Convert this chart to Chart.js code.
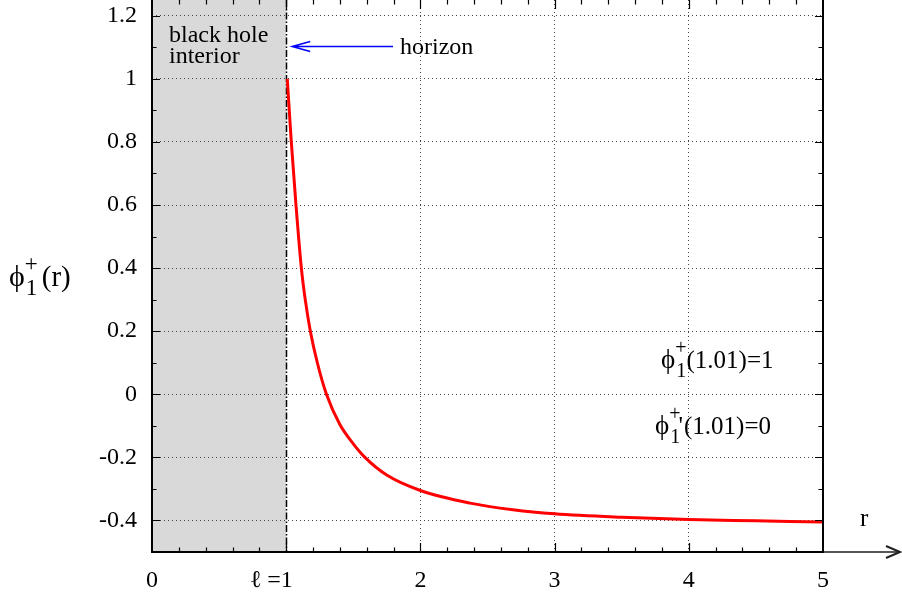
<!DOCTYPE html>
<html>
<head>
<meta charset="utf-8">
<script src="https://cdn.jsdelivr.net/npm/chart.js@4/dist/chart.umd.min.js"></script>
<style>
html,body{margin:0;padding:0;background:#fff;overflow:hidden}
canvas{display:block}
</style>
</head>
<body>
<canvas id="c" width="902" height="596"></canvas>
<script>
// ---- data ----
const rValues   = [1.008, 1.038, 1.073, 1.113, 1.142, 1.180, 1.232, 1.30, 1.40, 1.50, 1.587, 1.749, 2.0, 2.37, 2.69, 3.0, 3.5, 4.0, 4.5, 5.0];
const phiValues = [1.0, 0.8, 0.6, 0.4, 0.3, 0.2, 0.1, 0.0, -0.096, -0.157, -0.2, -0.256, -0.305, -0.345, -0.366, -0.379, -0.390, -0.397, -0.401, -0.405];
const xTickValues = [0, 1, 2, 3, 4, 5];
const xTickLabels = ['0', '\u2113 =1\u00a0\u00a0\u00a0\u00a0\u00a0', '2', '3', '4', '5'];
const yTickValues = [-0.4, -0.2, 0, 0.2, 0.4, 0.6, 0.8, 1, 1.2];
const yTickLabels = ['-0.4', '-0.2', '0', '0.2', '0.4', '0.6', '0.8', '1', '1.2'];
const interiorRange = [0, 1];   // black hole interior
const horizonR = 1;

const FONT = '"Liberation Serif", "Times New Roman", serif';
const PHI = '\u03D5';

function drawPhi(ctx, x, y, phiSize, mainSize, subSize, supUp, subDown, gap, prime, rest) {
  ctx.textAlign = 'left';
  ctx.textBaseline = 'alphabetic';
  ctx.fillStyle = '#000';
  ctx.font = phiSize + 'px ' + FONT;
  ctx.fillText(PHI, x, y);
  let w = ctx.measureText(PHI).width;
  ctx.font = subSize + 'px ' + FONT;
  ctx.fillText('+', x + w, y - supUp);
  ctx.fillText('1', x + w + 1, y + subDown);
  let sw = Math.max(ctx.measureText('+').width, ctx.measureText('1').width + 1);
  let nx = x + w + sw + gap;
  ctx.font = mainSize + 'px ' + FONT;
  if (prime) {
    ctx.fillText("'", nx - 2, y);
    nx += ctx.measureText("'").width - 1;
  }
  ctx.fillText(rest, nx, y);
}

const decor = {
  id: 'decor',
  beforeDraw(chart) {
    const ctx = chart.ctx, a = chart.chartArea, xs = chart.scales.x;
    ctx.save();
    ctx.fillStyle = '#fff';
    ctx.fillRect(0, 0, chart.width, chart.height);
    ctx.fillStyle = '#d9d9d9';
    const x0 = xs.getPixelForValue(interiorRange[0]), x1 = xs.getPixelForValue(interiorRange[1]);
    ctx.fillRect(x0, a.top, x1 - x0, a.bottom - a.top);
    ctx.restore();
  },
  beforeDatasetsDraw(chart) {
    const ctx = chart.ctx, a = chart.chartArea, xs = chart.scales.x;
    ctx.save();
    const hx = Math.round(xs.getPixelForValue(horizonR)) + 0.5;
    ctx.strokeStyle = '#000';
    ctx.lineWidth = 1.5;
    ctx.setLineDash([7, 2, 1.5, 2]);
    ctx.beginPath();
    ctx.moveTo(hx, a.top);
    ctx.lineTo(hx, a.bottom);
    ctx.stroke();
    ctx.restore();
  },
  afterDatasetsDraw(chart) {
    const ctx = chart.ctx, a = chart.chartArea, xs = chart.scales.x, ys = chart.scales.y;
    ctx.save();
    // x-axis arrow extension
    ctx.strokeStyle = '#555';
    ctx.lineWidth = 2;
    ctx.beginPath();
    ctx.moveTo(a.right, a.bottom);
    ctx.lineTo(899, a.bottom);
    ctx.stroke();
    ctx.strokeStyle = '#222';
    ctx.lineWidth = 2;
    ctx.beginPath();
    ctx.moveTo(886, a.bottom - 6);
    ctx.lineTo(900, a.bottom);
    ctx.lineTo(886, a.bottom + 6);
    ctx.stroke();
    // frame
    ctx.strokeStyle = '#000';
    ctx.lineWidth = 2;
    ctx.beginPath();
    ctx.moveTo(a.left, a.top);
    ctx.lineTo(a.left, a.bottom);
    ctx.lineTo(a.right, a.bottom);
    ctx.lineTo(a.right, a.top);
    ctx.stroke();
    // tick marks (inward)
    ctx.lineWidth = 1.2;
    ctx.beginPath();
    for (let i = 1; i < 25; i++) {
      const v = i / 5;
      const px = Math.round(xs.getPixelForValue(v)) + 0.5;
      const len = (i % 5 === 0) ? 9 : 4.5;
      ctx.moveTo(px, a.bottom);
      ctx.lineTo(px, a.bottom - len);
      ctx.moveTo(px, a.top);
      ctx.lineTo(px, a.top + len);
    }
    for (let i = -4; i <= 12; i++) {
      const v = i / 10;
      const py = Math.round(ys.getPixelForValue(v)) + 0.5;
      const len = (i % 2 === 0) ? 8 : 4.5;
      ctx.moveTo(a.left, py);
      ctx.lineTo(a.left + len, py);
      ctx.moveTo(a.right, py);
      ctx.lineTo(a.right - len, py);
    }
    ctx.stroke();
    ctx.restore();
  },
  afterDraw(chart) {
    const ctx = chart.ctx, xs = chart.scales.x;
    ctx.save();
    ctx.fillStyle = '#000';
    ctx.textAlign = 'left';
    ctx.textBaseline = 'alphabetic';
    ctx.font = '24px ' + FONT;
    ctx.fillText('black hole', 169, 42);
    ctx.fillText('interior', 169, 63);
    ctx.fillText('horizon', 400, 54);
    ctx.font = '25px ' + FONT;
    ctx.fillText('r', 860, 526);
    // horizon arrow
    ctx.strokeStyle = '#0000ff';
    ctx.lineWidth = 1.5;
    const tip = xs.getPixelForValue(horizonR) + 6;
    ctx.beginPath();
    ctx.moveTo(393, 46.5);
    ctx.lineTo(tip, 46.5);
    ctx.moveTo(tip + 18, 41.5);
    ctx.lineTo(tip, 46.5);
    ctx.lineTo(tip + 18, 51.5);
    ctx.stroke();
    // phi labels
    drawPhi(ctx, 9, 286, 30, 29, 23, 15, 9, 4, false, '(r)');
    drawPhi(ctx, 661, 368, 27, 25, 20, 14, 9, 0, false, '(1.01)=1');
    drawPhi(ctx, 655, 434, 27, 25, 20, 14, 9, 0, true, '(1.01)=0');
    ctx.restore();
  }
};

new Chart(document.getElementById('c'), {
  type: 'line',
  data: {
    datasets: [{
      data: rValues.map((r, i) => ({ x: r, y: phiValues[i] })),
      borderColor: '#ff0000',
      borderWidth: 3,
      pointRadius: 0,
      fill: false,
      cubicInterpolationMode: 'monotone'
    }]
  },
  options: {
    responsive: false,
    animation: false,
    events: [],
    layout: { padding: { top: 0, right: 79, left: 0, bottom: 0 } },
    plugins: { legend: { display: false }, tooltip: { enabled: false } },
    scales: {
      x: {
        type: 'linear', min: 0, max: 5,
        afterBuildTicks: s => { s.ticks = xTickValues.map(v => ({ value: v })); },
        afterFit: s => { s.height = 44; s.paddingLeft = 0; s.paddingRight = 0; },
        ticks: {
          callback: (v, i) => xTickLabels[i],
          font: { family: FONT, size: 24 }, color: '#000',
          padding: 14, maxRotation: 0, autoSkip: false
        },
        grid: {
          drawTicks: false, lineWidth: 1,
          color: c => (c.tick && c.tick.value > 1 && c.tick.value < 5) ? '#444' : 'rgba(0,0,0,0)'
        },
        border: { display: false, dash: [1, 3] }
      },
      y: {
        type: 'linear', min: -0.5, max: 1.25,
        afterBuildTicks: s => { s.ticks = yTickValues.map(v => ({ value: v })); },
        afterFit: s => { s.width = 152; s.paddingTop = 0; s.paddingBottom = 0; },
        ticks: {
          callback: (v, i) => yTickLabels[i],
          font: { family: FONT, size: 24 }, color: '#000',
          padding: 15, autoSkip: false
        },
        grid: { drawTicks: false, lineWidth: 1, color: '#444' },
        border: { display: false, dash: [1, 3] }
      }
    }
  },
  plugins: [decor]
});
</script>
</body>
</html>
